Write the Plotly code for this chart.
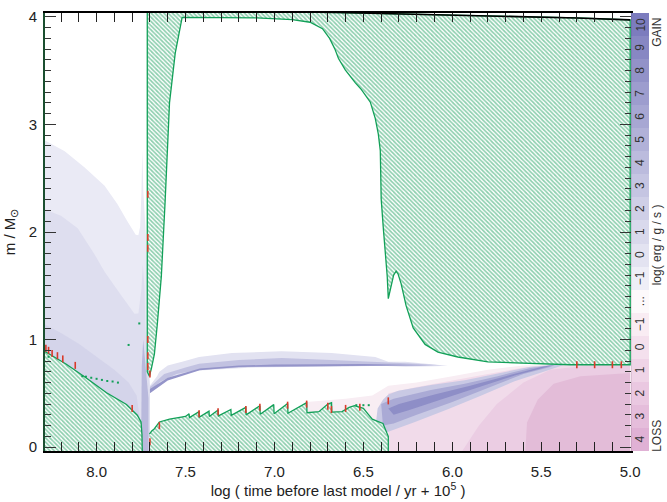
import plotly.graph_objects as go

# ---------------- data ----------------
# total mass line (log time, M/Msun)
MASS_X = [7.715, 7.3, 7.0, 6.64, 6.3, 6.0, 5.7, 5.5, 5.3, 5.0]
MASS_Y = [4.06, 4.055, 4.05, 4.04, 4.028, 4.018, 4.008, 4.0, 3.99, 3.972]

# envelope convection zone: lower boundary (right -> left)
ENV_BOT_X = [5.0, 5.336, 5.521, 5.80, 5.969, 6.081, 6.153, 6.22, 6.26, 6.288, 6.305, 6.316, 6.33, 6.345, 6.355, 6.36]
ENV_BOT_Y = [0.766, 0.766, 0.775, 0.793, 0.838, 0.883, 0.955, 1.108, 1.315, 1.52, 1.61, 1.635, 1.60, 1.48, 1.40, 1.38]
# radiative pocket boundary (bottom tip -> top -> left)
RAD_X = [6.366, 6.377, 6.388, 6.40, 6.405, 6.416, 6.433, 6.461, 6.511, 6.545, 6.601, 6.640, 6.66, 6.69, 6.73, 6.80, 6.90, 7.10, 7.30, 7.519]
RAD_Y = [1.586, 1.856, 2.036, 2.306, 2.757, 2.91, 3.054, 3.207, 3.324, 3.387, 3.505, 3.613, 3.70, 3.80, 3.89, 3.95, 3.975, 3.99, 3.995, 3.995]
# right edge of the thin convective strip (top -> bottom)
STRIP_X = [7.558, 7.59, 7.614, 7.636, 7.659, 7.675, 7.692, 7.703]
STRIP_Y = [3.66, 3.2, 2.306, 1.586, 1.135, 0.865, 0.73, 0.66]
STRIP_LEFT = 7.715

# convective core boundary (left -> right)
CORE_X = [8.30, 8.29, 8.17, 8.056, 7.944, 7.832, 7.771, 7.75, 7.745, 7.743]
CORE_Y = [0.90, 0.89, 0.77, 0.64, 0.505, 0.396, 0.297, 0.234, 0.12, -0.05]

# shell convection (saw-tooth) upper boundary (left -> right)
SAW_X = [7.703, 7.69, 7.675, 7.647, 7.59, 7.535, 7.50, 7.48, 7.478, 7.424, 7.422, 7.368, 7.366, 7.317, 7.315,
         7.245, 7.243, 7.161, 7.159, 7.082, 7.080, 7.004, 7.002, 6.926, 6.924, 6.819, 6.817, 6.75, 6.70, 6.679,
         6.677, 6.62, 6.58, 6.55, 6.50, 6.47, 6.45, 6.42, 6.39, 6.375, 6.365, 6.36]
SAW_Y = [0.12, 0.15, 0.171, 0.234, 0.26, 0.275, 0.285, 0.31, 0.275, 0.33, 0.28, 0.335, 0.285, 0.345, 0.29,
         0.35, 0.295, 0.37, 0.30, 0.385, 0.305, 0.395, 0.31, 0.405, 0.315, 0.414, 0.32, 0.33, 0.40, 0.414,
         0.325, 0.33, 0.37, 0.385, 0.36, 0.30, 0.26, 0.24, 0.22, 0.16, 0.12, 0.10]

# energy-generation (gain) regions, left part
L1_X = [8.30, 8.30, 8.179, 8.067, 7.955, 7.883, 7.827, 7.80, 7.78, 7.765, 7.755, 7.748, 7.743, 7.737, 7.72, 7.70, 7.70]
L1_Y = [-0.05, 2.86, 2.75, 2.60, 2.43, 2.26, 2.10, 2.02, 1.975, 1.97, 2.05, 2.37, 2.76, 2.37, 1.9, 0.6, -0.05]
L2_X = [8.30, 8.30, 8.20, 8.106, 8.011, 7.955, 7.871, 7.81, 7.787, 7.765, 7.748, 7.74, 7.73, 7.726, 7.715, 7.70, 7.70]
L2_Y = [-0.05, 2.216, 2.15, 2.036, 1.79, 1.63, 1.432, 1.29, 1.24, 1.243, 1.468, 1.70, 1.47, 1.135, 0.8, 0.55, -0.05]
L3_X = [8.30, 8.30, 8.2, 8.1, 8.0, 7.9, 7.82, 7.775, 7.76, 7.75]
L3_Y = [-0.05, 1.15, 1.06, 0.96, 0.84, 0.72, 0.60, 0.48, 0.3, -0.05]
NECK_X = [7.750, 7.750, 7.746, 7.738, 7.728, 7.716, 7.708, 7.708]
NECK_Y = [-0.05, 0.35, 0.75, 1.0, 0.80, 0.62, 0.45, -0.05]

# hydrogen-shell band ("finger")
BAND1_X = [7.706, 7.66, 7.647, 7.60, 7.552, 7.519, 7.424, 7.239, 6.959, 6.679, 6.433, 6.40, 6.36, 6.265, 6.10, 6.025,
           6.10, 6.265, 6.40, 6.769, 7.144, 7.424, 7.552, 7.647, 7.706]
BAND1_Y = [0.56, 0.66, 0.70, 0.76, 0.78, 0.793, 0.838, 0.874, 0.892, 0.874, 0.838, 0.815, 0.793, 0.793, 0.768, 0.757,
           0.752, 0.748, 0.757, 0.748, 0.739, 0.712, 0.667, 0.595, 0.50]
BAND2_X = [7.70, 7.62, 7.50, 7.424, 7.20, 6.959, 6.679, 6.40, 6.20, 6.06,
           6.20, 6.45, 6.80, 7.15, 7.424, 7.55, 7.64, 7.70]
BAND2_Y = [0.56, 0.68, 0.74, 0.775, 0.81, 0.829, 0.811, 0.793, 0.775, 0.762,
           0.757, 0.755, 0.75, 0.745, 0.72, 0.68, 0.61, 0.52]
BAND3_X = [7.70, 7.60, 7.42, 7.20, 7.00, 6.50, 6.10, 6.50, 7.00, 7.20, 7.42, 7.60, 7.70]
BAND3_Y = [0.54, 0.645, 0.73, 0.758, 0.768, 0.772, 0.762, 0.756, 0.752, 0.745, 0.715, 0.62, 0.50]

# helium-shell wedge (right part)
W1_X = [6.43, 6.42, 6.39, 6.36, 6.304, 6.12, 5.93, 5.745, 5.56, 5.40, 5.37, 5.465, 5.65, 5.84, 6.025, 6.21, 6.36, 6.40, 6.43]
W1_Y = [0.22, 0.36, 0.44, 0.49, 0.523, 0.577, 0.622, 0.685, 0.748, 0.766, 0.766, 0.712, 0.613, 0.477, 0.351, 0.234, 0.144, 0.11, 0.15]
W2_X = [6.40, 6.33, 6.12, 5.93, 5.745, 5.56, 5.42, 5.45, 5.60, 5.80, 6.00, 6.20, 6.33, 6.39]
W2_Y = [0.40, 0.45, 0.53, 0.59, 0.66, 0.735, 0.766, 0.745, 0.68, 0.55, 0.42, 0.30, 0.22, 0.20]
W3_X = [6.36, 6.30, 6.10, 5.90, 5.70, 5.50, 5.43, 5.47, 5.65, 5.85, 6.05, 6.25, 6.33]
W3_Y = [0.36, 0.40, 0.49, 0.57, 0.66, 0.745, 0.766, 0.745, 0.665, 0.56, 0.45, 0.34, 0.30]

# loss regions (pink)
PK0_X = [6.88, 6.82, 6.60, 6.45, 6.36, 6.20, 6.00, 5.80, 5.60, 5.45, 5.60, 6.00, 6.36, 6.88]
PK0_Y = [0.30, 0.42, 0.45, 0.48, 0.57, 0.60, 0.66, 0.72, 0.76, 0.766, 0.40, 0.30, 0.25, 0.25]
PK1_X = [6.36, 6.36, 6.20, 6.00, 5.80, 5.60, 5.45, 5.0, 5.0]
PK1_Y = [-0.05, 0.50, 0.56, 0.62, 0.68, 0.74, 0.766, 0.766, -0.05]
PK2_X = [5.95, 5.85, 5.75, 5.60, 5.45, 5.20, 5.0, 5.0]
PK2_Y = [-0.05, 0.20, 0.40, 0.60, 0.72, 0.766, 0.766, -0.05]
PK3_X = [5.59, 5.58, 5.52, 5.43, 5.28, 5.0, 5.0]
PK3_Y = [-0.05, 0.23, 0.44, 0.59, 0.66, 0.69, -0.05]

# red (overshoot) marks and stray green marks
RED_X = [8.285, 8.27, 8.25, 8.22, 8.19, 8.12, 7.80, 7.712, 7.712, 7.712, 7.712, 7.712, 7.712,
         7.70, 7.70, 7.647, 7.424, 7.317, 7.161, 7.082, 6.926, 6.819, 6.70, 6.68, 6.60, 6.52, 6.36,
         5.30, 5.20, 5.10, 5.05]
RED_Y = [0.92, 0.90, 0.87, 0.85, 0.82, 0.76, 0.36, 2.35, 1.95, 1.85, 1.0, 0.85, 0.75,
         0.68, 0.05, 0.20, 0.31, 0.33, 0.35, 0.37, 0.39, 0.40, 0.38, 0.35, 0.36, 0.37, 0.43,
         0.766, 0.766, 0.766, 0.766]
GDOT_X = [8.08, 8.06, 8.03, 8.00, 7.97, 7.94, 7.91, 7.88, 8.27, 7.82, 7.76, 6.54, 6.50, 6.47]
GDOT_Y = [0.66, 0.655, 0.645, 0.635, 0.625, 0.615, 0.61, 0.60, 0.84, 0.95, 1.15, 0.39, 0.39, 0.39]

# colour bar (bottom -> top)
CB_LABELS = ["4", "3", "2", "1", "0", "\u22121", "...", "\u22121", "0", "1", "2", "3", "4", "5", "6", "7", "8", "9", "10"]
CB_COLORS = ["#e0b1d5", "#e5bddb", "#eac8e1", "#efd4e7", "#f4e0ed", "#f9ecf3", "#fdf9fb",
             "#eeeef7", "#e3e3f1", "#d9d9ec", "#cfcfe7", "#c5c5e2", "#bbbbdd", "#b1b1d8",
             "#a7a7d3", "#9d9dce", "#9292c8", "#8787c3", "#7c7cbe"]

X_RANGE = [8.29, 4.995]
Y_RANGE = [-0.036, 4.036]

# ---------------- figure ----------------
fig = go.Figure()

def poly(xs, ys, color):
    fig.add_trace(go.Scatter(x=xs, y=ys, fill="toself", fillcolor=color, mode="lines",
                             line=dict(width=0, color=color), hoverinfo="skip", showlegend=False))

# gain regions left
poly(L1_X, L1_Y, "#eaeaf5")
poly(L2_X, L2_Y, "#dedeef")
poly(L3_X, L3_Y, "#d4d4ea")
poly(NECK_X, NECK_Y, "#b9b9dc")
# loss regions
poly(PK0_X, PK0_Y, "#f8edf3")
poly(PK1_X, PK1_Y, "#f1dbea")
poly(PK2_X, PK2_Y, "#ebcde3")
poly(PK3_X, PK3_Y, "#e3bcd8")
# hydrogen shell band
poly(BAND1_X, BAND1_Y, "#e2e2f1")
poly(BAND2_X, BAND2_Y, "#c2c2e1")
poly(BAND3_X, BAND3_Y, "#9494c9")
# helium shell wedge
poly(W1_X, W1_Y, "#c9c9e4")
poly(W2_X, W2_Y, "#aaaad5")
poly(W3_X, W3_Y, "#8e8ec7")

GREEN_LINE = "#12a058"
HATCH = dict(shape="\\", fgcolor="#1c9f5e", bgcolor="white", size=3, solidity=0.55)

def hatched(xs, ys):
    fig.add_trace(go.Scatter(x=xs, y=ys, fill="toself", mode="lines", fillpattern=HATCH,
                             line=dict(width=1.3, color=GREEN_LINE), hoverinfo="skip", showlegend=False))

# envelope convection polygon
env_x = [STRIP_X[-1], STRIP_LEFT] + MASS_X + [5.0] + ENV_BOT_X + RAD_X + STRIP_X
env_y = [STRIP_Y[-1], 0.70] + MASS_Y + [ENV_BOT_Y[0]] + ENV_BOT_Y + RAD_Y + STRIP_Y
hatched(env_x, env_y)
# convective core
hatched(CORE_X + [8.30], CORE_Y + [-0.05])
# saw-tooth shell convection
hatched(SAW_X + [6.36, 7.703], SAW_Y + [-0.05, -0.05])

# stray marks
fig.add_trace(go.Scatter(x=GDOT_X, y=GDOT_Y, mode="markers", marker=dict(symbol="square", size=2, color=GREEN_LINE),
                         hoverinfo="skip", showlegend=False))
fig.add_trace(go.Scatter(x=RED_X, y=RED_Y, mode="markers",
                         marker=dict(symbol="line-ns", size=5, line=dict(width=1.6, color="#d83a2a")),
                         hoverinfo="skip", showlegend=False))
# total mass line
fig.add_trace(go.Scatter(x=MASS_X, y=MASS_Y, mode="lines", line=dict(color="black", width=1.6),
                         hoverinfo="skip", showlegend=False))
# right-side y axis carrier
fig.add_trace(go.Scatter(x=[], y=[], yaxis="y3", showlegend=False))

# colour bar
n = len(CB_COLORS)
cs = []
for i, c in enumerate(CB_COLORS):
    cs.append([i / n, c])
    cs.append([(i + 1) / n, c])
fig.add_trace(go.Heatmap(x=[0], y=list(range(n)), z=[[i] for i in range(n)], zmin=-0.5, zmax=n - 0.5,
                         colorscale=cs, showscale=False, xaxis="x2", yaxis="y2", hoverinfo="skip"))
FONT = "Liberation Sans"
for i, lab in enumerate(CB_LABELS):
    fig.add_annotation(x=0, y=i, xref="x2", yref="y2", text=lab, textangle=-90, showarrow=False,
                       xanchor="center", yanchor="middle",
                       font=dict(size=12, color="#333", family=FONT))

for txt, yy in [("GAIN", 0.955), ("LOSS", 0.035), ("log( erg / g / s )", 0.47)]:
    fig.add_annotation(x=1.0135, y=yy, xref="paper", yref="paper", text=txt, textangle=-90, showarrow=False,
                       xanchor="center", yanchor="middle", font=dict(size=12, color="#333", family=FONT))

main_end = (634 - 45) / (652 - 45)
fig.update_layout(
    width=667, height=502, margin=dict(l=45, r=15, t=8, b=42),
    paper_bgcolor="white", plot_bgcolor="white",
    font=dict(family=FONT, size=15, color="#222"),
    xaxis=dict(domain=[0, main_end], range=X_RANGE, dtick=0.5, tick0=5.0, tickformat=".1f",
               ticks="inside", ticklen=9, tickwidth=1.3, tickcolor="#222",
               minor=dict(dtick=0.1, tick0=5.0, ticks="inside", ticklen=5, tickwidth=1.1, tickcolor="#222"),
               showline=True, linecolor="black", linewidth=1.8, mirror="allticks", showgrid=False, zeroline=False,
               ticklabelstandoff=6,
               title=dict(text="log ( time before last model / yr + 10<sup>5</sup> )", standoff=4,
                          font=dict(size=15))),
    yaxis=dict(range=Y_RANGE, dtick=1, tick0=0, ticks="inside", ticklen=11, tickwidth=1.3, tickcolor="#333",
               minor=dict(dtick=0.1, tick0=0, ticks="inside", ticklen=6, tickwidth=1.1, tickcolor="#333"),
               showline=True, linecolor="#1b4f30", linewidth=1.8, mirror=False, showgrid=False, zeroline=False,
               ticklabelstandoff=3,
               title=dict(text="m / M<sub>\u2299</sub>", standoff=10, font=dict(size=15))),
    yaxis3=dict(range=Y_RANGE, overlaying="y", side="right", anchor="x", dtick=1, tick0=0, ticks="inside",
                ticklen=11, tickwidth=1.3, tickcolor="#333", showticklabels=False,
                minor=dict(dtick=0.1, tick0=0, ticks="inside", ticklen=6, tickwidth=1.1, tickcolor="#333"),
                showline=True, linecolor="black", linewidth=1.8, showgrid=False, zeroline=False),
    xaxis2=dict(domain=[main_end, 1.0], range=[-0.5, 0.5], visible=False, anchor="y2"),
    yaxis2=dict(domain=[0, 1], range=[-0.5, n - 0.5], visible=False, anchor="x2"),
)

fig.write_html("out.html")
